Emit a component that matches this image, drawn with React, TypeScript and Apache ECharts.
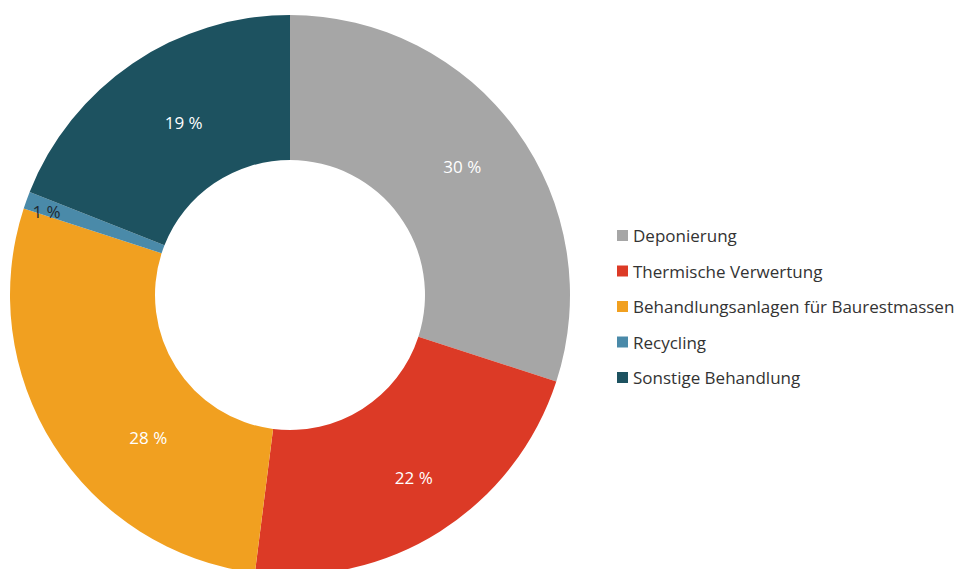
import React, { useEffect, useRef } from "react";
import * as echarts from "echarts";

const categories = [
  "Deponierung",
  "Thermische Verwertung",
  "Behandlungsanlagen für Baurestmassen",
  "Recycling",
  "Sonstige Behandlung",
];
const values = [30, 22, 28, 1, 19];
const colors = ["#a6a6a6", "#dc3a26", "#f1a020", "#4a8aa9", "#1d5260"];
// manual nudges of the data labels, as placed in the original
const labelOffsets: number[][] = [[2, -5], [11, 5], [36, 30], [4, 6], [12, 2]];

export default function App() {
  const ref = useRef<HTMLDivElement>(null);
  useEffect(() => {
    if (!ref.current) return;
    const chart = echarts.init(ref.current, null, { renderer: "svg" });
    const font = "Open Sans";
    const data = categories.map((name, i) => ({
      name,
      value: values[i],
      itemStyle: { color: colors[i] },
    }));
    chart.setOption({
      animation: false,
      color: colors,
      legend: {
        orient: "vertical",
        left: 612,
        top: 222,
        itemWidth: 11,
        itemHeight: 11,
        itemGap: 18.5,
        icon: "rect",
        textStyle: { fontFamily: font, fontSize: 17, color: "#333" },
        data: categories,
      },
      series: [
        {
          type: "pie",
          center: [290, 295],
          radius: [135, 280],
          startAngle: 90,
          clockwise: true,
          silent: true,
          data: data.map((d, i) => ({
            ...d,
            label:
              d.name === "Recycling"
                ? { show: false }
                : { offset: labelOffsets[i] },
          })),
          label: {
            show: true,
            position: "inside",
            formatter: "{c} %",
            color: "#ffffff",
            fontFamily: font,
            fontSize: 17,
          },
          labelLine: { show: false },
        },
        {
          type: "pie",
          center: [290, 295],
          radius: [242, 278],
          startAngle: 90,
          clockwise: true,
          silent: true,
          legendHoverLink: false,
          data: data.map((d, i) => ({
            name: d.name,
            value: d.value,
            itemStyle: { color: "rgba(0,0,0,0)" },
            label: { show: d.name === "Recycling", offset: labelOffsets[i] },
          })),
          label: {
            position: "inside",
            formatter: "{c} %",
            color: "#1e2a33",
            fontFamily: font,
            fontSize: 17,
          },
          labelLine: { show: false },
        },
      ],
    });
    return () => chart.dispose();
  }, []);
  return (
    <div
      ref={ref}
      style={{ position: "fixed", left: 0, top: 0, width: 956, height: 569, background: "#fff" }}
    />
  );
}
